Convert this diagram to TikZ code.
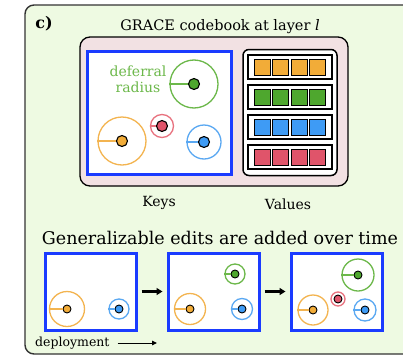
\documentclass[tikz,border=0pt]{standalone}
\usepackage{fontspec}
\setmainfont{DejaVu Serif}
\usetikzlibrary{arrows.meta}
\definecolor{panelbg}{RGB}{238,250,226}
\definecolor{bookbg}{RGB}{242,225,227}
\definecolor{keyblue}{RGB}{26,59,255}
\definecolor{oFill}{RGB}{242,172,56}
\definecolor{oRing}{RGB}{243,180,80}
\definecolor{gFill}{RGB}{78,167,46}
\definecolor{gRing}{RGB}{108,184,74}
\definecolor{bFill}{RGB}{62,155,245}
\definecolor{bRing}{RGB}{90,168,242}
\definecolor{rFill}{RGB}{224,84,106}
\definecolor{rRing}{RGB}{232,114,127}
\tikzset{
  keybox/.style={draw=keyblue, line width=3pt, fill=white, inner sep=0pt},
  ring/.style={circle, draw=#1, line width=1.3pt, inner sep=0pt},
  keydot/.style={circle, draw=black, line width=1.1pt, fill=#1, inner sep=0pt, minimum size=11pt},
  smalldot/.style={circle, draw=black, line width=0.9pt, fill=#1, inner sep=0pt, minimum size=8pt},
  rowbox/.style={draw=black, line width=1.6pt, fill=white, minimum width=84pt, minimum height=24pt, inner sep=0pt},
  cell/.style={draw=black, line width=1pt, fill=#1, minimum size=16pt, inner sep=0pt},
  stepArrow/.style={-{Triangle[length=6pt,width=7pt]}, line width=2.2pt},
  label/.style={inner sep=0pt, text=black},
}
\begin{document}
\begin{tikzpicture}[x=1pt,y=-1pt]
\useasboundingbox (0,0) rectangle (403,356);
% panel background
\draw[draw=black!80, line width=1.4pt, fill=panelbg, rounded corners=9pt] (25,5) rectangle (420,354);
\node[label, font=\bfseries\fontsize{16}{16}\selectfont] (tag) at (44,24) {c)};
\node[label, font=\fontsize{14.5}{15}\selectfont] (title) at (220,27) {GRACE codebook at layer {\itshape l}};

% codebook
\node[draw=black, line width=1.3pt, fill=bookbg, rounded corners=10pt, minimum width=268pt, minimum height=149pt, inner sep=0pt] (book) at (214,111.5) {};
\node[keybox, minimum width=144pt, minimum height=123pt] (keys) at (159,112.5) {};
\node[draw=black, line width=1.5pt, fill=white, rounded corners=6pt, minimum width=94pt, minimum height=126pt, inner sep=0pt] (vals) at (290,112.5) {};

% keys with their deferral radii
\node[ring=gRing, minimum size=48pt] (gR) at (194,84) {};
\node[keydot=gFill] (gD) at (194,84) {};
\draw[gRing, line width=1.3pt] (gR.west) -- (gD);
\node[label, text=gRing, align=center, font=\fontsize{14}{16}\selectfont] (defer) at (138,79) {deferral\\radius};

\node[ring=rRing, minimum size=23pt] (rR) at (162,126) {};
\node[keydot=rFill] (rD) at (162,126) {};
\draw[rRing, line width=1.3pt] (rR.west) -- (rD);

\node[ring=oRing, minimum size=48pt] (oR) at (122,141) {};
\node[keydot=oFill] (oD) at (122,141) {};
\draw[oRing, line width=1.3pt] (oR.west) -- (oD);

\node[ring=bRing, minimum size=34pt] (bR) at (204,142) {};
\node[keydot=bFill] (bD) at (204,142) {};
\draw[bRing, line width=1.3pt] (bR.west) -- (bD);

% values
\foreach \r/\c [count=\i] in {67/oFill, 97/gFill, 127/bFill, 157/rFill} {
  \node[rowbox] (row\i) at (290,\r) {};
  \foreach \dx [count=\j] in {-27.6,-9.2,9.2,27.6}
    \node[cell=\c] (cell\i\j) at (290+\dx,\r) {};
}

\node[label, font=\fontsize{14}{15}\selectfont] (keyslbl) at (159,203) {Keys};
\node[label, font=\fontsize{14}{15}\selectfont] (valslbl) at (288,204) {Values};

\node[label, font=\fontsize{17.5}{18}\selectfont] (heading) at (220,238) {Generalizable edits are added over time};

% deployment snapshots
\node[keybox, minimum width=91pt, minimum height=77pt] (p1) at (90.5,291.5) {};
\node[keybox, minimum width=91pt, minimum height=77pt] (p2) at (213.5,291.5) {};
\node[keybox, minimum width=91pt, minimum height=77pt] (p3) at (336.5,291.5) {};
\draw[stepArrow] (p1.east) ++(4,0) coordinate (a1s) -- ([xshift=-4pt]p2.west) coordinate (a1e);
\draw[stepArrow] (p2.east) ++(4,0) coordinate (a2s) -- ([xshift=-4pt]p3.west) coordinate (a2e);

% snapshot 1
\node[ring=oRing, minimum size=35pt] (o1R) at (67,309) {};
\node[smalldot=oFill] (o1D) at (67,309) {};
\draw[oRing, line width=1.3pt] (o1R.west) -- (o1D);
\node[ring=bRing, minimum size=20pt] (b1R) at (119,309) {};
\node[smalldot=bFill] (b1D) at (119,309) {};
\draw[bRing, line width=1.3pt] (b1R.west) -- (b1D);

% snapshot 2
\node[ring=gRing, minimum size=20pt] (g2R) at (235,274) {};
\node[smalldot=gFill] (g2D) at (235,274) {};
\draw[gRing, line width=1.3pt] (g2R.west) -- (g2D);
\node[ring=oRing, minimum size=31pt] (o2R) at (190,309) {};
\node[smalldot=oFill] (o2D) at (190,309) {};
\draw[oRing, line width=1.3pt] (o2R.west) -- (o2D);
\node[ring=bRing, minimum size=21pt] (b2R) at (242,309) {};
\node[smalldot=bFill] (b2D) at (242,309) {};
\draw[bRing, line width=1.3pt] (b2R.west) -- (b2D);

% snapshot 3
\node[ring=gRing, minimum size=32pt] (g3R) at (358,275) {};
\node[smalldot=gFill] (g3D) at (358,275) {};
\draw[gRing, line width=1.3pt] (g3R.west) -- (g3D);
\node[ring=rRing, minimum size=14pt] (r3R) at (338,299) {};
\node[smalldot=rFill] (r3D) at (338,299) {};
\node[ring=oRing, minimum size=30pt] (o3R) at (313,310) {};
\node[smalldot=oFill] (o3D) at (313,310) {};
\draw[oRing, line width=1.3pt] (o3R.west) -- (o3D);
\node[ring=bRing, minimum size=22pt] (b3R) at (365,310) {};
\node[smalldot=bFill] (b3D) at (365,310) {};
\draw[bRing, line width=1.3pt] (b3R.west) -- (b3D);

% time axis
\node[label, anchor=west, font=\fontsize{12.5}{13}\selectfont] (deploy) at (35,343) {deployment};
\coordinate (tEnd) at (157,343);
\draw[-{Triangle[length=5pt,width=4.5pt]}, line width=1pt] ([xshift=8pt]deploy.east) -- (tEnd);
\end{tikzpicture}
\end{document}
